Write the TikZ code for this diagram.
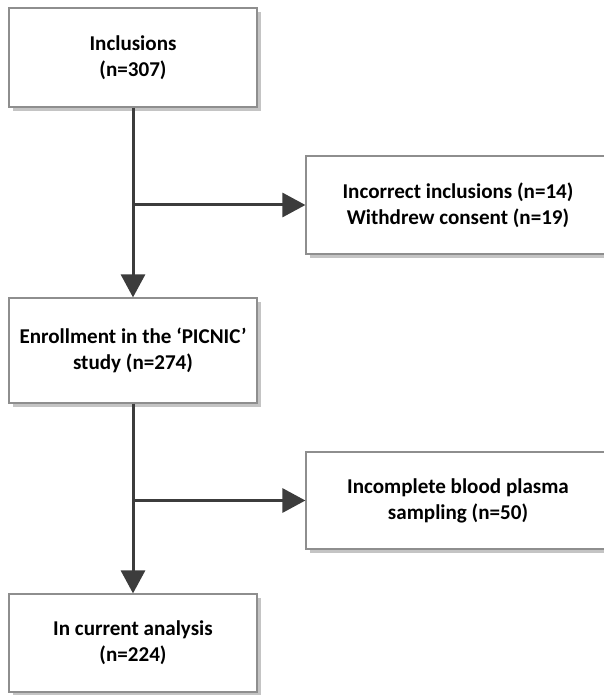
\documentclass[tikz,border=0pt]{standalone}
\usepackage{fontspec}
\setmainfont{Carlito}
\usetikzlibrary{arrows.meta,shadows}
\definecolor{boxline}{HTML}{8E8E8E}
\definecolor{boxshadow}{HTML}{C4C4C4}
\definecolor{flowgray}{HTML}{3C3C3C}

\begin{document}
\begin{tikzpicture}[x=0.02cm,y=-0.02cm]
    \tikzset{FlowBox/.style = {%
        shape= rectangle,
        draw= boxline,
        line width= 0.7pt,
        fill= white,
        drop shadow= {shadow xshift=0.08cm, shadow yshift=-0.08cm,
                      fill=boxshadow, opacity=1},
        align= center,
        font= \fontsize{12}{14.9}\selectfont\bfseries,
        inner sep= 0pt},
      LeftBox/.style = {FlowBox, minimum width=4.96cm},
      RightBox/.style = {FlowBox, minimum width=6.08cm},
      FlowLine/.style = {draw= flowgray, line width= 0.06cm,
        -{Triangle[length=0.46cm,width=0.48cm]}}}
    \useasboundingbox (0,0) rectangle (603,695);
    \node[LeftBox, minimum height=1.98cm] (incl) at (133,57.5) {Inclusions\\(n=307)};
    \node[RightBox, minimum height=1.96cm] (excl) at (458,205) {Incorrect inclusions (n=14)\\Withdrew consent (n=19)};
    \node[LeftBox, minimum height=2.1cm] (enrol) at (133,350.5) {Enrollment in the ‘PICNIC’\\study (n=274)};
    \node[RightBox, minimum height=1.94cm] (plasma) at (458,500.5) {Incomplete blood plasma\\sampling (n=50)};
    \node[LeftBox, minimum height=1.96cm] (anal) at (133,643) {In current analysis\\(n=224)};
    \draw[FlowLine] (incl.south) -- (enrol.north);
    \draw[FlowLine] (incl.south |- excl.west) -- (excl.west);
    \draw[FlowLine] (enrol.south) -- (anal.north);
    \draw[FlowLine] (enrol.south |- plasma.west) -- (plasma.west);
\end{tikzpicture}
\end{document}
